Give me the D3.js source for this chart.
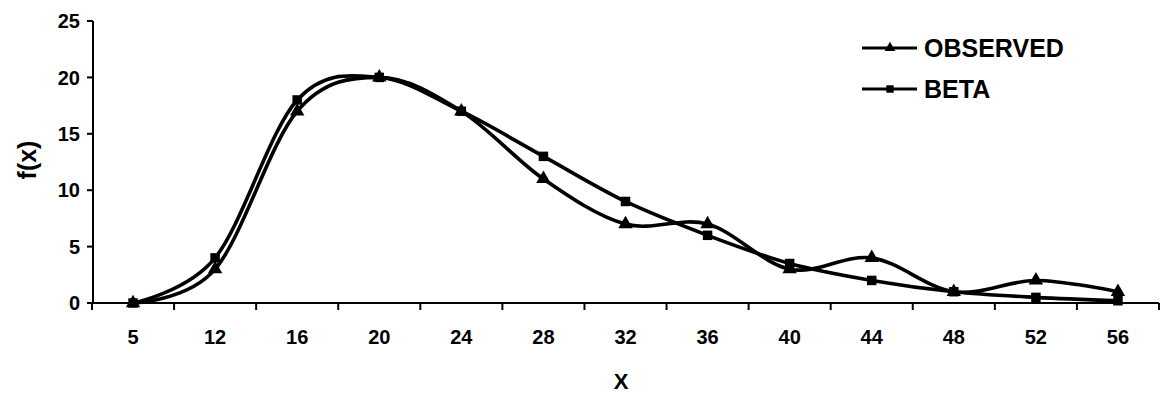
<!DOCTYPE html>
<html>
<head>
<meta charset="utf-8">
<script src="https://cdn.jsdelivr.net/npm/d3@7"></script>
<style>
  body { margin: 0; background: #fff; }
  svg { display: block; font-family: "Liberation Sans", Arial, sans-serif; }
</style>
</head>
<body>
<svg class="plot" width="1166" height="397"></svg>
<script>
// data
var categories = ["5", "12", "16", "20", "24", "28", "32", "36", "40", "44", "48", "52", "56"];
var observed = [0, 3, 17, 20, 17, 11, 7, 7, 3, 4, 1, 2, 1];
var beta = [0, 4, 18, 20, 17, 13, 9, 6, 3.5, 2, 1, 0.5, 0.2];
var yTicks = [0, 5, 10, 15, 20, 25];

var svg = d3.select(".plot");

var x = d3.scaleBand().domain(categories).range([92, 1159]).padding(0),
    y = d3.scaleLinear().domain([0, 25]).range([303, 21]);

var cx = function(i) { return x(categories[i]) + x.bandwidth() / 2; };

// y axis
svg.append("line")
    .attr("x1", 93).attr("x2", 93)
    .attr("y1", y(25)).attr("y2", y(0))
    .attr("stroke", "#000").attr("stroke-width", 2);

svg.selectAll(".ytick")
    .data(yTicks)
    .enter()
    .append("line")
    .attr("x1", 87).attr("x2", 93)
    .attr("y1", function(d) { return y(d); })
    .attr("y2", function(d) { return y(d); })
    .attr("stroke", "#000").attr("stroke-width", 2);

svg.selectAll(".ylab")
    .data(yTicks)
    .enter()
    .append("text")
    .attr("x", 80)
    .attr("y", function(d) { return y(d); })
    .attr("dy", "0.36em")
    .attr("text-anchor", "end")
    .style("font-size", "20px")
    .style("font-weight", "bold")
    .text(function(d) { return d; });

// x axis
svg.append("line")
    .attr("x1", 87).attr("x2", 1159)
    .attr("y1", y(0)).attr("y2", y(0))
    .attr("stroke", "#000").attr("stroke-width", 2);

var bounds = categories.map(function(c) { return x(c); }).concat([x.range()[1]]);
svg.selectAll(".xtick")
    .data(bounds)
    .enter()
    .append("line")
    .attr("x1", function(d) { return d; })
    .attr("x2", function(d) { return d; })
    .attr("y1", y(0)).attr("y2", y(0) + 7)
    .attr("stroke", "#000").attr("stroke-width", 2);

svg.selectAll(".xlab")
    .data(categories)
    .enter()
    .append("text")
    .attr("x", function(d, i) { return cx(i); })
    .attr("y", 337)
    .attr("dy", "0.36em")
    .attr("text-anchor", "middle")
    .style("font-size", "20px")
    .style("font-weight", "bold")
    .text(function(d) { return d; });

// axis titles
svg.append("text")
    .attr("x", 621).attr("y", 381)
    .attr("dy", "0.36em")
    .attr("text-anchor", "middle")
    .style("font-size", "22px")
    .style("font-weight", "bold")
    .text("X");

svg.append("text")
    .attr("transform", "translate(27,160)rotate(-90)")
    .attr("dy", "0.36em")
    .attr("text-anchor", "middle")
    .style("font-size", "25px")
    .style("font-weight", "bold")
    .text("f(x)");

// smoothed lines
var line = d3.line()
    .x(function(d, i) { return cx(i); })
    .y(function(d) { return y(d); })
    .curve(d3.curveCardinal.tension(0));

[beta, observed].forEach(function(s) {
  svg.append("path")
      .datum(s)
      .attr("d", line)
      .attr("fill", "none")
      .attr("stroke", "#000")
      .attr("stroke-width", 3.6);
});

var tri = d3.symbol().type(d3.symbolTriangle).size(90),
    sq = d3.symbol().type(d3.symbolSquare).size(90);

svg.selectAll(".obs")
    .data(observed)
    .enter()
    .append("path")
    .attr("d", tri)
    .attr("transform", function(d, i) { return "translate(" + cx(i) + "," + y(d) + ")"; })
    .attr("fill", "#000");

svg.selectAll(".beta")
    .data(beta)
    .enter()
    .append("path")
    .attr("d", sq)
    .attr("transform", function(d, i) { return "translate(" + cx(i) + "," + y(d) + ")"; })
    .attr("fill", "#000");

// legend
var legend = [{name: "OBSERVED", sym: d3.symbol().type(d3.symbolTriangle).size(50), y: 48},
              {name: "BETA", sym: d3.symbol().type(d3.symbolSquare).size(55), y: 89}];

var lg = svg.selectAll(".legend")
    .data(legend)
    .enter()
    .append("g")
    .attr("transform", function(d) { return "translate(0," + d.y + ")"; });

lg.append("line")
    .attr("x1", 862).attr("x2", 917)
    .attr("stroke", "#000").attr("stroke-width", 3);

lg.append("path")
    .attr("d", function(d) { return d.sym(); })
    .attr("transform", "translate(890,0)")
    .attr("fill", "#000");

lg.append("text")
    .attr("x", 924)
    .attr("dy", "0.36em")
    .style("font-size", "25px")
    .style("font-weight", "bold")
    .text(function(d) { return d.name; });
</script>
</body>
</html>
